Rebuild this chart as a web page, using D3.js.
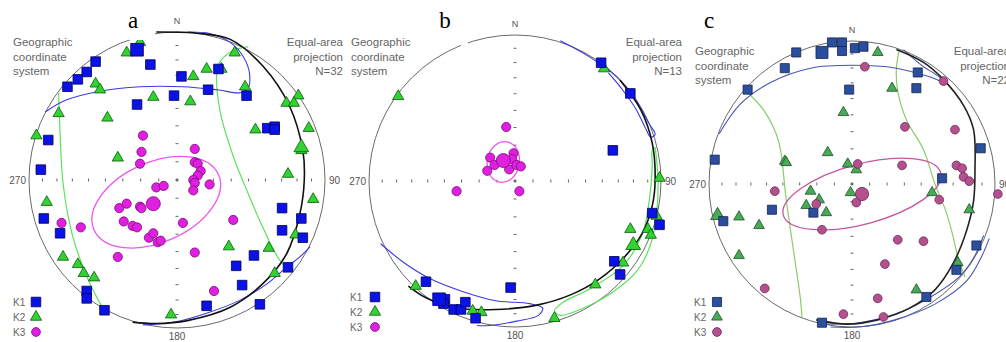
<!DOCTYPE html>
<html>
<head>
<meta charset="utf-8">
<script src="https://cdn.jsdelivr.net/npm/d3@7/dist/d3.min.js"></script>
<style>
  body { margin: 0; background: #fff; }
  svg { display: block; }
</style>
</head>
<body>
<div id="chart"></div>
<script>
// all coordinates are equal-area projected positions, in % of the net radius (x east, y north)

// ---- net a ----
const k1A = [[-55,80],[-61,73],[-67,68],[-74,63],[-18,78],[3,70],[28,75],[21,61],[-2,57],[-27,51],[47,57],
  [61,35],[66,36],[66,34],[-87,27],[-92,7],[-90,-26],[-79,-36],[-61,-75],[-61,-80],[-49,-88],[20,-85],
  [44,-71],[56,-84],[40,-58],[52,-51],[71,-19],[71,-34],[84,-26],[85,-39],[75,-59]];
const k2A = [[-25,93],[-34,86],[-55,65],[-52,61],[-16,56],[-47,42],[11,70],[20,75],[30,75],[9,53],[39,86],
  [46,63],[82,57],[74,52],[79,52],[53,34],[89,35],[84,20],[75,4],[92,-13],[-40,15],[-95,30],[-80,45],
  [-88,-15],[-77,-52],[-67,-57],[-63,-63],[-56,-66],[-4,-91],[35,-45],[62,-46],[66,-63],[80,-37]];
const k3A = [[-23,30],[-24,19],[-25,11],[12,21],[12,12],[14,11],[16,6],[14,3],[11,0],[12,-2],[11,-7],[22,-3],
  [-14,-5],[-9,-4],[-39,-19],[-34,-16],[-25,-18],[-24,-19],[-36,-28],[-30,-31],[-27,-32],[-19,-39],
  [-16,-36],[-13,-42],[-11,-41],[4,-29],[12,-49],[-40,-52],[-78,-29],[-65,-32],[38,-27],[25,-75]];
const meansA = [[-27,88],[84,22],[-16,-16]];            // K1, K2, K3 means
const ellipseA = [-14,-15,46,27,24];                     // cx, cy, semi-major, semi-minor, angle
const planeA = [[-14,100],[16,99],[36,95],[58,77],[76,50],[85,20],[86,0],[83,-23],[74,-50],[58,-70],
  [36,-86],[7,-95],[-14,-97],[-30,-96]];
const blueA = [
  [[-89,46],[-75,54],[-52,60],[-25,63],[4,63],[27,61],[43,59],[48,62],[49,72],[45,83],[36,93],[22,99],[7,100]],
  [[90,-45],[83,-52],[74,-59],[61,-70],[43,-81],[20,-90],[-2,-96],[-23,-98]]
];
const greenA = [
  [[-80,59],[-79,32],[-77,-2],[-71,-36],[-61,-65],[-49,-89]],
  [[48,90],[39,88],[29,80],[27,74],[29,47],[38,16],[48,-9],[58,-32],[68,-52],[74,-59],[79,-61]]
];

// ---- net b ----
const k1B = [[59,81],[79,60],[67,21],[94,-22],[99,-30],[68,-55],[72,-64],[-3,-73],[-61,-69],[-48,-81],
  [-49,-84],[-42,-88],[-37,-88],[-34,-83],[-27,-94]];
const k2B = [[-80,58],[61,77],[99,2],[97,-24],[79,-33],[91,-33],[93,-37],[74,-56],[55,-71],[-68,-72],
  [-29,-89],[-23,-90],[27,-94]];
const k3B = [[-6,37],[-17,16],[-14,11],[-19,7],[-1,19],[-2,15],[-4,8],[1,11],[4,10],[-40,-7],[3,-7]];
const meansB = [[-52,-81],[81,-44],[-8,14]];
const ellipseB = [-8,13,14,11,80];
const planeB = [[72,69],[86,49],[94,26],[96,1],[94,-17],[87,-36],[75,-52],[58,-67],[38,-78],[15,-85],
  [-13,-88],[-40,-87],[-61,-80],[-73,-72]];
const blueB = [
  [[31,96],[51,85],[70,71],[83,55],[92,39],[96,32],[93,30],[89,37],[83,49],[74,62],[64,74]],
  [[-92,-43],[-76,-56],[-58,-67],[-35,-76],[-13,-82],[10,-84],[19,-87],[16,-92],[1,-96],[-17,-99],[-26,-99]]
];
const greenB = [
  [[96,23],[98,1],[97,-22],[93,-43],[84,-61],[67,-76],[47,-87],[31,-92],[27,-89],[33,-83],[51,-74],
   [74,-58],[87,-37],[92,-13],[94,10],[94,21],[96,23]]
];

// ---- net c ----
const k1C = [[-14,99],[-7,99],[-7,93],[2,95],[8,96],[-39,92],[-47,81],[-73,66],[-2,66],[46,78],[45,67],
  [90,25],[63,4],[-96,17],[-90,-26],[-56,-18],[-27,-20],[87,-43],[73,-60],[52,-79],[-21,-97]];
const k2C = [[18,92],[28,67],[-6,50],[-17,22],[-47,16],[-46,15],[-3,14],[3,10],[-29,-5],[-23,-11],[-32,-15],
  [-18,-20],[-1,-6],[-79,-23],[-65,-29],[-79,-50],[56,-6],[82,-18],[74,-55],[45,-74]];
const k3C = [[9,82],[64,72],[37,40],[72,38],[4,14],[35,13],[73,13],[77,11],[78,5],[82,2],[3,-13],[-54,-5],
  [-25,-14],[-21,-32],[32,-39],[50,-40],[61,-11],[23,-56],[102,-7],[-61,-73],[18,-80],[-6,-91],[22,-93]];
const meansC = [[-21,92],[-94,-22],[7,-7]];
const ellipseC = [7,-7,57,21,15];
const planeC = [[31,94],[50,85],[64,73],[78,55],[85,38],[86,10],[85,-12],[80,-33],[71,-55],[58,-74],
  [40,-87],[18,-95],[-3,-98],[-25,-95]];
const blueC = [
  [[-93,35],[-78,56],[-57,71],[-29,81],[1,83],[31,81],[54,75],[65,71],[58,77],[50,82],[36,94]],
  [[92,-36],[86,-50],[75,-65],[55,-79],[30,-91],[5,-97],[-20,-98]],
  [[96,-38],[90,-52],[80,-68],[58,-84],[30,-95],[5,-100],[-15,-100]]
];
const greenC = [
  [[-73,64],[-62,52],[-53,35],[-50,24],[-46,-11],[-41,-46],[-36,-81],[-35,-93]],
  [[33,94],[31,80],[32,65],[38,45],[50,24],[58,0],[66,-20],[71,-38],[74,-51],[79,-65]]
];

const tickPlunges = [10, 20, 30, 40, 50, 60, 70, 80];
const counts = ["N=32", "N=13", "N=22"];
const letters = ["a", "b", "c"];

const bright = { k1: "#0b12e6", k1s: "#00005a", k2: "#33d233", k2s: "#0a5a0a", k3: "#e020e0", k3s: "#7a0a7a",
  blue: "#3a3ae0", green: "#5ee05e", pink: "#ee55ee", plane: "#111" };
const muted = { k1: "#2b4f9e", k1s: "#15244d", k2: "#47aa57", k2s: "#1f4f28", k3: "#b5508f", k3s: "#6a2a55",
  blue: "#4856b4", green: "#8acd68", pink: "#c4559e", plane: "#222" };

const nets = [
  { cx: 177, cy: 180, R: 148, k1: k1A, k2: k2A, k3: k3A, means: meansA, ell: ellipseA, plane: planeA,
    blue: blueA, green: greenA, pal: bright, txtY: 46, textL: 13, textR: 343, leg: [13, 36, 302], big: 1 },
  { cx: 515, cy: 181, R: 146, k1: k1B, k2: k2B, k3: k3B, means: meansB, ell: ellipseB, plane: planeB,
    blue: blueB, green: greenB, pal: bright, txtY: 46, textL: 351, textR: 682, leg: [350, 375, 297], big: 1 },
  { cx: 852, cy: 184, R: 143, k1: k1C, k2: k2C, k3: k3C, means: meansC, ell: ellipseC, plane: planeC,
    blue: blueC, green: greenC, pal: muted, txtY: 55, textL: 695, textR: 1010, leg: [694, 717, 302], big: 0.9 }
];

const W = 1006, H = 342;
const svg = d3.select("#chart").append("svg").attr("width", W).attr("height", H)
  .style("font-family", "'Liberation Sans', Arial, sans-serif");

function drawNet(net, i) {
  const x = d3.scaleLinear().domain([-100, 100]).range([net.cx - net.R, net.cx + net.R]);
  const y = d3.scaleLinear().domain([-100, 100]).range([net.cy + net.R, net.cy - net.R]);
  const g = svg.append("g");
  const pal = net.pal;

  // primitive
  g.append("circle").attr("cx", x(0)).attr("cy", y(0)).attr("r", x(100) - x(0))
    .attr("fill", "none").attr("stroke", "#6a6a6a").attr("stroke-width", 1);

  // 10 degree ticks along the axes (equal-area radius)
  const radii = [0].concat(tickPlunges.map(p => 100 * Math.SQRT2 * Math.sin((90 - p) / 2 * Math.PI / 180)));
  radii.forEach(r => {
    [-1, 1].forEach(s => {
      g.append("line").attr("x1", x(s * r)).attr("x2", x(s * r))
        .attr("y1", y(0) - 1.5).attr("y2", y(0) + 1.5).attr("stroke", "#666");
      g.append("line").attr("y1", y(s * r)).attr("y2", y(s * r))
        .attr("x1", x(0) - 1.5).attr("x2", x(0) + 1.5).attr("stroke", "#666");
    });
  });

  const line = d3.line().x(d => x(d[0])).y(d => y(d[1])).curve(d3.curveCatmullRom);

  net.green.forEach(c => g.append("path").attr("d", line(c)).attr("fill", "none")
    .attr("stroke", pal.green).attr("stroke-width", 1.2));
  net.blue.forEach(c => g.append("path").attr("d", line(c)).attr("fill", "none")
    .attr("stroke", pal.blue).attr("stroke-width", 1.1));
  g.append("path").attr("d", line(net.plane)).attr("fill", "none")
    .attr("stroke", pal.plane).attr("stroke-width", 1.6);

  const [ex, ey, ea, eb, eang] = net.ell;
  g.append("ellipse").attr("cx", x(ex)).attr("cy", y(ey))
    .attr("rx", x(ea) - x(0)).attr("ry", x(eb) - x(0))
    .attr("transform", `rotate(${-eang},${x(ex)},${y(ey)})`)
    .attr("fill", "none").attr("stroke", pal.pink).attr("stroke-width", 1.3);

  const sq = d3.symbol().type(d3.symbolSquare);
  const tri = d3.symbol().type(d3.symbolTriangle);
  const k = net.big;

  function marks(data, gen, size, fill, stroke) {
    g.selectAll(null).data(data).enter().append("path")
      .attr("d", gen.size(size)())
      .attr("transform", d => `translate(${x(d[0])},${y(d[1])})`)
      .attr("fill", fill).attr("stroke", stroke).attr("stroke-width", 0.8);
  }
  function dots(data, r, fill, stroke) {
    g.selectAll(null).data(data).enter().append("circle")
      .attr("cx", d => x(d[0])).attr("cy", d => y(d[1])).attr("r", r)
      .attr("fill", fill).attr("stroke", stroke).attr("stroke-width", 0.8);
  }

  marks(net.k2, tri, 55 * k, pal.k2, pal.k2s);
  marks([net.means[1]], tri, 95 * k, pal.k2, pal.k2s);
  marks(net.k1, sq, 92 * k, pal.k1, pal.k1s);
  marks([net.means[0]], sq, 160 * k, pal.k1, pal.k1s);
  dots(net.k3, 4.6 * Math.sqrt(k), pal.k3, pal.k3s);
  dots([net.means[2]], 7 * Math.sqrt(k), pal.k3, pal.k3s);

  // direction labels
  const lab = (t, px, py, anchor, fs) => g.append("text").attr("x", px).attr("y", py)
    .attr("text-anchor", anchor).attr("font-size", fs).attr("fill", "#555").text(t);
  lab("N", x(0), net.cy - net.R - 8, "middle", 9);
  lab("180", x(0), Math.min(net.cy + net.R + 12, 340.5), "middle", 10);
  lab("270", x(-100) - 3, y(0) + 4, "end", 10);
  lab("90", x(100) + 4, y(0) + 4, "start", 10);

  // corner texts
  ["Geographic", "coordinate", "system"].forEach((t, j) =>
    g.append("text").attr("x", net.textL).attr("y", net.txtY + j * 14.5).attr("font-size", 11.5)
      .attr("fill", "#666").text(t));
  ["Equal-area", "projection", counts[i]].forEach((t, j) =>
    g.append("text").attr("x", net.textR).attr("y", net.txtY + j * 14.5).attr("font-size", 11.5)
      .attr("text-anchor", "end").attr("fill", "#666").text(t));

  // legend
  const [lx, sx, ly] = net.leg;
  const legItems = [["K1", sq, 92, pal.k1, pal.k1s], ["K2", tri, 55, pal.k2, pal.k2s], ["K3", null, 0, pal.k3, pal.k3s]];
  legItems.forEach((it, j) => {
    const yy = ly + j * 15;
    g.append("text").attr("x", lx).attr("y", yy + 4).attr("font-size", 10).attr("fill", "#666").text(it[0]);
    if (it[1]) {
      g.append("path").attr("d", it[1].size(it[2] * k)()).attr("transform", `translate(${sx},${yy})`)
        .attr("fill", it[3]).attr("stroke", it[4]).attr("stroke-width", 0.8);
    } else {
      g.append("circle").attr("cx", sx).attr("cy", yy).attr("r", 4.4)
        .attr("fill", it[3]).attr("stroke", it[4]).attr("stroke-width", 0.8);
    }
  });
}

nets.forEach(drawNet);

// panel letters (their white boxes cut the primitive circles a little)
svg.append("rect").attr("x", 129).attr("y", 16).attr("width", 26).attr("height", 24).attr("fill", "#fff");
svg.append("rect").attr("x", 461).attr("y", 30).attr("width", 7).attr("height", 16).attr("fill", "#fff");
const letterPos = [[133, 28], [445, 28], [709, 28]];
letters.forEach((t, i) => svg.append("text").attr("x", letterPos[i][0]).attr("y", letterPos[i][1])
  .attr("text-anchor", "middle").attr("font-family", "'Liberation Serif', 'Times New Roman', serif")
  .attr("font-size", 23).attr("fill", "#000").text(t));
</script>
</body>
</html>
